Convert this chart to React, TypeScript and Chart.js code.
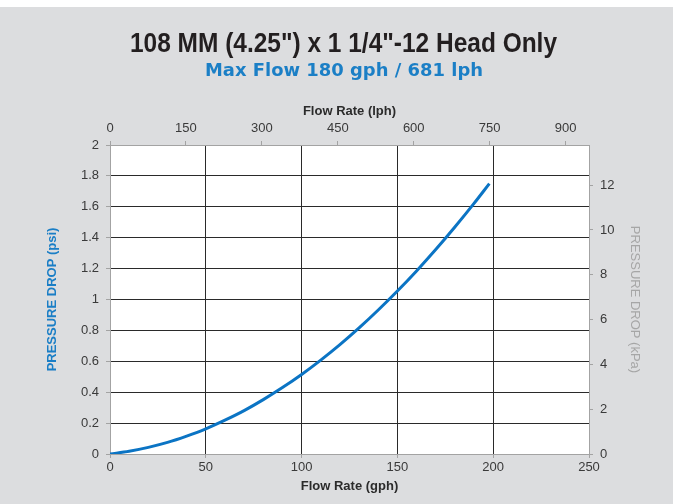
import React, { useEffect, useRef } from 'react';
import { Chart, registerables } from 'chart.js';

Chart.register(...registerables);

// ---- Text ----
const titleText = '108 MM (4.25") x 1 1/4"-12 Head Only';
const subtitleText = 'Max Flow 180 gph / 681 lph';
const bottomAxisTitle = 'Flow Rate (gph)';
const topAxisTitle = 'Flow Rate (lph)';
const leftAxisTitle = 'PRESSURE DROP (psi)';
const rightAxisTitle = 'PRESSURE DROP (kPa)';

// ---- Data ----
const flowGph = [0, 10, 20, 30, 40, 50, 60, 70, 80, 90, 100, 110, 120, 130, 140, 150, 160, 170, 180, 190, 198];
const dropPsi = [0, 0.018, 0.043, 0.075, 0.116, 0.163, 0.219, 0.281, 0.352, 0.43, 0.515, 0.608, 0.708, 0.816, 0.932, 1.055, 1.185, 1.323, 1.469, 1.622, 1.75];

// ---- Axis ranges / ticks ----
const gphMin = 0;
const gphMax = 250;
const gphStep = 50;
const psiMin = 0;
const psiMax = 2;
const psiStep = 0.2;
const lphStep = 150;
const kpaStep = 2;
const GPH_TO_LPH = 3.785;
const PSI_TO_KPA = 6.895;

const BLUE = '#0b74c4';
const GRID = '#2a2a2a';
const BORDER = '#a3a3a3';
const TICK_TEXT = '#3a3a3a';
const SANS = '"Liberation Sans", Arial, Helvetica, sans-serif';

export default function App() {
  const ref = useRef<HTMLCanvasElement | null>(null);

  useEffect(() => {
    document.body.style.margin = '0';
    const canvas = ref.current;
    if (!canvas) return;

    const bgPlugin = {
      id: 'bgPlugin',
      beforeDraw(chart: any) {
        const { ctx, chartArea: a, width, height } = chart;
        ctx.save();
        ctx.fillStyle = '#ffffff';
        ctx.fillRect(0, 0, width, height);
        ctx.fillStyle = '#dcdddf';
        ctx.fillRect(0, 7, width - 1, height - 7);
        ctx.fillStyle = '#ffffff';
        ctx.fillRect(a.left, a.top, a.right - a.left, a.bottom - a.top);
        ctx.restore();
      },
    };

    // Headline text, drawn with a horizontal stretch to mimic the condensed / extended faces
    const headPlugin = {
      id: 'headPlugin',
      afterDraw(chart: any) {
        const { ctx } = chart;
        const drawFit = (text: string, font: string, color: string, cx: number, baseY: number, targetW: number) => {
          ctx.save();
          ctx.font = font;
          ctx.fillStyle = color;
          ctx.textAlign = 'center';
          ctx.textBaseline = 'alphabetic';
          const w = ctx.measureText(text).width;
          ctx.translate(cx, baseY);
          ctx.scale(targetW / w, 1);
          ctx.fillText(text, 0, 0);
          ctx.restore();
        };
        drawFit(titleText, `bold 28px ${SANS}`, '#231f20', 343.5, 52, 427);
        drawFit(subtitleText, 'bold 18px "DejaVu Sans", sans-serif', '#1b7fc6', 344, 75.5, 278);
      },
    };

    const edgeColor = (lo: number, hi: number) => (c: any) =>
      c.tick && (Math.abs(c.tick.value - lo) < 1e-9 || Math.abs(c.tick.value - hi) < 1e-9) ? BORDER : GRID;

    const fmt = (v: any) => String(Math.round(Number(v) * 100) / 100);

    const chart = new Chart(canvas, {
      type: 'line',
      data: {
        datasets: [
          {
            data: flowGph.map((g, i) => ({ x: g, y: dropPsi[i] })),
            borderColor: BLUE,
            borderWidth: 3,
            pointRadius: 0,
            cubicInterpolationMode: 'monotone',
            fill: false,
            xAxisID: 'x',
            yAxisID: 'y',
          },
        ],
      },
      options: {
        responsive: false,
        animation: false,
        devicePixelRatio: 1,
        layout: { padding: { top: 80, left: 0, right: 0, bottom: 0 } },
        plugins: {
          legend: { display: false },
          tooltip: { enabled: false },
          title: { display: false },
          subtitle: { display: false },
        },
        scales: {
          x: {
            type: 'linear',
            position: 'bottom',
            min: gphMin,
            max: gphMax,
            ticks: { stepSize: gphStep, callback: fmt, color: TICK_TEXT, font: { family: SANS, size: 13 }, padding: 2, maxRotation: 0 },
            grid: { color: edgeColor(gphMin, gphMax), tickColor: BORDER, tickLength: 4, lineWidth: 1 },
            border: { color: BORDER, width: 1 },
            title: {
              display: true,
              text: bottomAxisTitle,
              color: '#2b2b2b',
              font: { family: SANS, size: 13, weight: 'bold' },
              padding: { top: 0, bottom: 9.7 },
            },
            afterFit(scale: any) {
              scale.height = 50;
            },
          },
          x2: {
            type: 'linear',
            position: 'top',
            min: gphMin * GPH_TO_LPH,
            max: gphMax * GPH_TO_LPH,
            ticks: { stepSize: lphStep, includeBounds: false, callback: fmt, color: TICK_TEXT, font: { family: SANS, size: 13 }, padding: 4.7, maxRotation: 0 },
            grid: { drawOnChartArea: false, color: BORDER, tickColor: BORDER, tickLength: 4 },
            border: { color: BORDER, width: 1 },
            title: {
              display: true,
              text: topAxisTitle,
              color: '#2b2b2b',
              font: { family: SANS, size: 13, weight: 'bold' },
              padding: { top: 23.7, bottom: 0 },
            },
            afterFit(scale: any) {
              scale.height = 65;
            },
          },
          y: {
            type: 'linear',
            position: 'left',
            min: psiMin,
            max: psiMax,
            ticks: { stepSize: psiStep, callback: fmt, color: TICK_TEXT, font: { family: SANS, size: 13 }, padding: 7 },
            grid: { color: edgeColor(psiMin, psiMax), tickColor: BORDER, tickLength: 4, lineWidth: 1 },
            border: { color: BORDER, width: 1 },
            title: {
              display: true,
              text: leftAxisTitle,
              color: '#1a7ec6',
              font: { family: SANS, size: 13, weight: 'bold' },
              padding: { top: 44.2, bottom: 0 },
            },
            afterFit(scale: any) {
              scale.width = 110;
            },
          },
          y2: {
            type: 'linear',
            position: 'right',
            min: psiMin * PSI_TO_KPA,
            max: psiMax * PSI_TO_KPA,
            ticks: { stepSize: kpaStep, includeBounds: false, callback: fmt, color: TICK_TEXT, font: { family: SANS, size: 13 }, padding: 7 },
            grid: { drawOnChartArea: false, color: BORDER, tickColor: BORDER, tickLength: 4 },
            border: { color: BORDER, width: 1 },
            title: {
              display: true,
              text: rightAxisTitle,
              color: '#a6a6a6',
              font: { family: SANS, size: 13 },
              padding: { top: 31.2, bottom: 0 },
            },
            afterFit(scale: any) {
              scale.width = 85;
            },
          },
        },
      },
      plugins: [bgPlugin, headPlugin],
    } as any);

    return () => chart.destroy();
  }, []);

  return <canvas ref={ref} width={674} height={504} style={{ display: 'block' }} />;
}
